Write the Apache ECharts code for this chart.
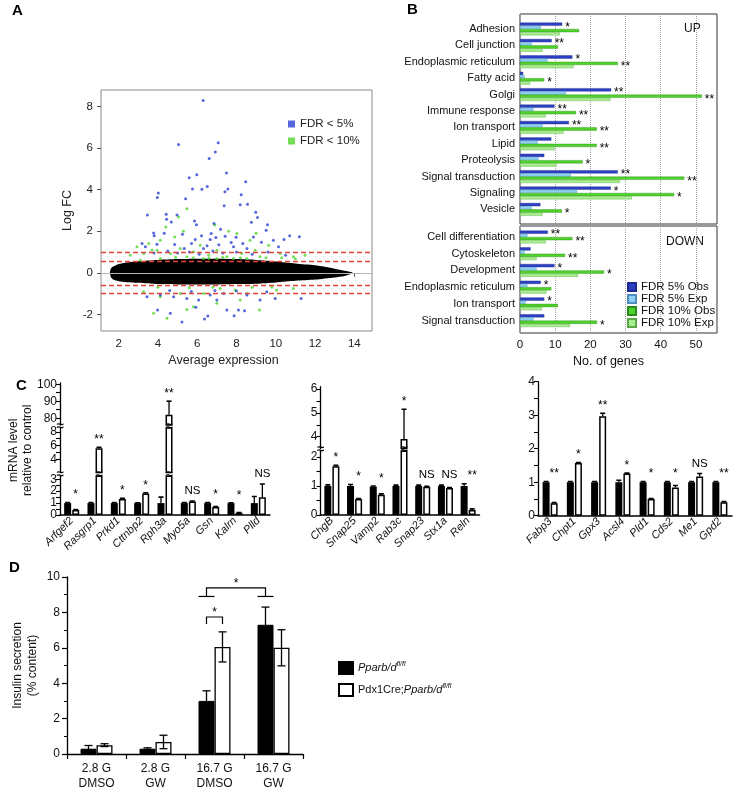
<!DOCTYPE html>
<html>
<head>
<meta charset="utf-8">
<script src="https://cdn.jsdelivr.net/npm/echarts@6/dist/echarts.min.js"></script>
<style>
  html, body { margin: 0; background: #fff; }
  #chart { width: 737px; height: 791px; }
</style>
</head>
<body>
<div id="chart"></div>
<script>
// ---------- Panel A: MA plot ----------
const maTicksX = [2, 4, 6, 8, 10, 12, 14];
const maTicksY = [-2, 0, 2, 4, 6, 8];
const cutoffs = [1, 0.58, -0.58, -1];
// outline of the dense black cloud of genes
const cloudX = [1.55, 1.58, 1.63, 1.72, 2.0, 2.4, 3, 4, 5, 6, 7, 8, 9, 10, 11, 12, 13, 13.5, 13.9];
const cloudUpper = [0, 0.14, 0.24, 0.3, 0.42, 0.5, 0.56, 0.62, 0.66, 0.68, 0.68, 0.66, 0.62, 0.55, 0.45, 0.36, 0.2, 0.1, 0.02];
const cloudLower = [0, -0.14, -0.25, -0.32, -0.4, -0.45, -0.48, -0.54, -0.56, -0.56, -0.56, -0.54, -0.52, -0.46, -0.38, -0.32, -0.22, -0.15, -0.02];
const fdr5Points = [
  [6.3, 8.3], [5.05, 6.18], [7.07, 6.26], [6.92, 5.81], [6.61, 5.5], [7.49, 4.8], [8.47, 4.38], [5.98, 4.72],
  [5.59, 4.58], [5.76, 4.03], [6.24, 4.02], [6.51, 4.16], [7.56, 4.03], [7.41, 3.9], [4.02, 3.84], [3.97, 3.62],
  [5.41, 3.57], [8.24, 3.76], [7.37, 3.23], [8.19, 3.28], [8.56, 3.3], [8.98, 2.91], [3.46, 2.78], [9.07, 2.66],
  [9.58, 2.32], [8.76, 2.43], [4.42, 2.82], [4.97, 2.78], [4.44, 2.58], [4.68, 2.45], [5.86, 2.5], [5.96, 2.32],
  [6.85, 2.37], [7.19, 2.1], [6.71, 1.89], [6.95, 1.7], [6.66, 1.6], [3.78, 1.92], [3.81, 1.79], [4.32, 1.9],
  [5.25, 1.86], [6.22, 1.79], [7.42, 1.76], [7.98, 1.71], [8.86, 1.73], [9.51, 2.05], [10.71, 1.79], [11.2, 1.74],
  [10.42, 1.6], [9.88, 1.57], [9.27, 1.47], [8.32, 1.41], [7.73, 1.46], [5.71, 1.41], [4.85, 1.36], [3.95, 1.38],
  [3.19, 1.41], [3.36, 1.25], [5.34, 1.17], [6.32, 1.17], [7.85, 1.25], [8.53, 1.17], [10.14, 1.25], [4.5, 1.05],
  [5.0, 0.95], [5.6, 1.0], [6.1, 0.9], [6.8, 1.05], [7.3, 0.95], [8.0, 1.0], [8.8, 0.9], [9.6, 1.0],
  [10.5, 0.85], [3.8, 0.95], [6.5, 1.3], [7.1, 1.35], [5.9, 1.6],
  [5.22, -2.37], [6.37, -2.22], [6.54, -2.08], [7.88, -2.06], [3.98, -1.79], [4.63, -1.95], [7.51, -1.79], [8.1, -1.79],
  [8.41, -1.82], [5.93, -1.66], [7.0, -1.31], [6.07, -1.31], [5.47, -1.23], [4.8, -1.15], [9.2, -1.31], [9.97, -1.23],
  [11.29, -1.23], [4.12, -1.07], [3.44, -1.15], [7.34, -0.99], [6.66, -1.07], [8.53, -1.07], [9.54, -0.91], [5.7, -0.9],
  [6.9, -0.85], [8.0, -0.88], [4.6, -0.85]
];
const fdr10Points = [
  [5.47, 3.09], [5.05, 2.69], [4.85, 1.73], [4.12, 1.57], [3.53, 1.41], [2.93, 1.25], [2.59, 0.85], [3.27, 0.93],
  [3.95, 1.09], [4.63, 0.93], [5.14, 1.17], [5.81, 1.01], [6.15, 1.33], [6.58, 0.85], [7.0, 1.09], [7.51, 0.77],
  [8.02, 1.89], [8.27, 0.93], [8.69, 1.57], [8.95, 1.09], [9.2, 0.77], [9.63, 1.33], [10.22, 0.93], [10.9, 0.77],
  [11.49, 0.85], [5.47, 0.77], [6.32, 0.69], [7.0, 0.69], [7.85, 0.69], [8.53, 0.69], [4.12, 0.69], [3.1, 0.61],
  [4.4, 2.2], [5.3, 2.0], [6.9, 2.3], [7.6, 2.0], [9.0, 1.9], [3.7, 1.1], [4.9, 0.75], [5.8, 0.72],
  [6.6, 0.7], [7.3, 0.75], [8.2, 0.72], [9.5, 0.72], [10.3, 0.72], [11.0, 0.68],
  [3.78, -1.95], [4.46, -2.19], [5.47, -1.76], [5.81, -1.63], [9.17, -1.79], [8.53, -0.99], [7.93, -0.83], [7.17, -0.75],
  [6.32, -0.99], [5.14, -0.99], [4.12, -1.15], [3.27, -0.91], [10.05, -0.83], [10.9, -0.75], [8.19, -1.31], [7.0, -1.47],
  [4.0, -0.7], [5.6, -0.72], [6.8, -0.7], [8.8, -0.7], [9.8, -0.68]
];

// ---------- Panel B: GO categories ----------
const goUp = ['Adhesion', 'Cell junction', 'Endoplasmic reticulum', 'Fatty acid', 'Golgi', 'Immune response',
  'Ion transport', 'Lipid', 'Proteolysis', 'Signal transduction', 'Signaling', 'Vesicle'];
const upObs5 = [12.0, 9.0, 14.9, 0.9, 25.9, 9.8, 13.9, 8.9, 6.9, 27.8, 25.8, 5.8];
const upExp5 = [5.9, 3.3, 7.8, 1.3, 13.0, 3.8, 6.4, 5.0, 5.2, 14.4, 16.2, 3.3];
const upObs10 = [16.8, 10.8, 27.8, 6.9, 51.7, 15.9, 21.8, 21.8, 17.8, 46.7, 43.8, 11.9];
const upExp10 = [11.3, 6.4, 15.2, 2.9, 25.7, 7.3, 12.4, 9.8, 10.4, 28.4, 31.8, 6.4];
const upSig5 = ['*', '**', '*', '', '**', '**', '**', '', '', '**', '*', ''];
const upSig10 = ['', '', '**', '*', '**', '**', '**', '**', '*', '**', '*', '*'];
const goDown = ['Cell differentiation', 'Cytoskeleton', 'Development', 'Endoplasmic reticulum', 'Ion transport', 'Signal transduction'];
const downObs5 = [7.9, 3.0, 9.8, 5.9, 6.9, 6.9];
const downExp5 = [2.1, 1.3, 4.7, 2.1, 1.6, 3.8];
const downObs10 = [14.9, 12.8, 23.9, 8.9, 10.8, 21.9];
const downExp10 = [7.3, 4.7, 16.5, 7.5, 6.2, 14.2];
const downSig5 = ['**', '', '*', '*', '*', ''];
const downSig10 = ['**', '**', '*', '', '', '*'];
const goTicks = [0, 10, 20, 30, 40, 50];

// ---------- Panel C: qPCR ----------
const c1Genes = ['Arfgef2', 'Rasgrp1', 'Prkd1', 'Cttnbp2', 'Rph3a', 'Myo5a', 'Gsn', 'Kalrn', 'Plld'];
const c1Ctrl = [1, 1, 1, 1, 1, 1, 1, 1, 1];
const c1CtrlTop = [1.05, 1.05, 1.04, 1.03, 1.5, 1.05, 1.05, 1.03, 1.55];
const c1Ko = [0.42, 5.6, 1.34, 1.8, 82, 1.13, 0.68, 0.18, 1.5];
const c1KoTop = [0.45, 5.75, 1.4, 1.87, 90, 1.17, 0.72, 0.2, 2.6];
const c1Sig = ['*', '**', '*', '*', '**', 'NS', '*', '*', 'NS'];

const c2Genes = ['ChgB', 'Snap25', 'Vamp2', 'Rab3c', 'Snap23', 'Stx1a', 'Reln'];
const c2Ctrl = [1, 1, 0.98, 1, 1, 1, 1];
const c2CtrlTop = [1.04, 1.05, 1.0, 1.03, 1.03, 1.03, 1.08];
const c2Ko = [1.68, 0.55, 0.7, 3.9, 0.97, 0.93, 0.17];
const c2KoTop = [1.71, 0.57, 0.73, 5.15, 0.99, 0.95, 0.21];
const c2Sig = ['*', '*', '*', '*', 'NS', 'NS', '**'];

const c3Genes = ['Fabp3', 'Chpt1', 'Gpx3', 'Acsl4', 'Pld1', 'Cds2', 'Me1', 'Gpd2'];
const c3Ctrl = [1, 1, 1, 1, 1, 1, 1, 1];
const c3CtrlTop = [1.02, 1.02, 1.02, 1.06, 1.02, 1.02, 1.02, 1.02];
const c3Ko = [0.37, 1.57, 2.97, 1.26, 0.5, 0.84, 1.17, 0.4];
const c3KoTop = [0.39, 1.59, 3.06, 1.27, 0.51, 0.9, 1.26, 0.42];
const c3Sig = ['**', '*', '**', '*', '*', '*', 'NS', '**'];

// ---------- Panel D: insulin secretion ----------
const dGroups = ['2.8 G\nDMSO', '2.8 G\nGW', '16.7 G\nDMSO', '16.7 G\nGW'];
const dWt = [0.3, 0.3, 3.0, 7.3];
const dWtErr = [0.18, 0.05, 0.57, 1.0];
const dKo = [0.5, 0.68, 6.05, 6.0];
const dKoErr = [0.08, 0.38, 0.85, 1.02];
// [group, bar, group, bar, bracket level, leg end, capped]
const dBrackets = [
  [2, 'wt', 2, 'ko', 7.74, 7.34, 0],
  [2, 'wt', 3, 'wt', 9.38, 8.9, 1]
];

const FONT = 'Liberation Sans';
const grids = [], xAxes = [], yAxes = [], series = [];

function addGrid(g, xa, ya) {
  grids.push(g);
  const gi = grids.length - 1;
  xAxes.push(Object.assign({ gridIndex: gi }, xa));
  yAxes.push(Object.assign({ gridIndex: gi }, ya));
  return gi;
}

// ---- A ----
const gA = addGrid(
  { left: 101, top: 90, width: 271, height: 241, show: true, borderColor: '#8a8a8a', borderWidth: 1 },
  {
    type: 'value', min: 1.1, max: 14.9,
    axisLine: { show: false },
    axisTick: { show: true, length: 4, customValues: maTicksX, lineStyle: { color: '#555' } },
    axisLabel: { customValues: maTicksX, fontSize: 11.5, color: '#222', margin: 7 },
    splitLine: { show: false },
    name: 'Average expression', nameLocation: 'middle', nameGap: 23,
    nameTextStyle: { fontSize: 12.5, color: '#222', padding: [0, 26, 0, 0] }
  },
  {
    type: 'value', min: -2.8, max: 8.8,
    axisLine: { show: false },
    axisTick: { show: true, length: 4, customValues: maTicksY, lineStyle: { color: '#555' } },
    axisLabel: { customValues: maTicksY, fontSize: 11.5, color: '#222', margin: 8 },
    splitLine: { show: false },
    name: 'Log FC', nameLocation: 'middle', nameGap: 27,
    nameTextStyle: { fontSize: 12.5, color: '#222' }
  }
);
series.push({
  type: 'line', xAxisIndex: gA, yAxisIndex: gA, data: [], z: 1, silent: true,
  markLine: { silent: true, symbol: 'none', label: { show: false }, animation: false,
    data: [{ yAxis: 0, lineStyle: { color: '#b5b5b5', type: 'solid', width: 1 } }] }
});
series.push({
  type: 'custom', name: 'cloud', xAxisIndex: gA, yAxisIndex: gA, silent: true, z: 2,
  data: cloudX.map((x, i) => [x, cloudUpper[i], cloudLower[i]]),
  encode: { x: 0, y: [1, 2] },
  renderItem: (params, api) => {
    if (params.dataIndex !== 0) return null;
    const pts = [];
    cloudX.forEach((x, i) => pts.push(api.coord([x, cloudUpper[i]])));
    for (let i = cloudX.length - 1; i >= 0; i--) pts.push(api.coord([cloudX[i], cloudLower[i]]));
    return { type: 'polygon', shape: { points: pts, smooth: 0.25 }, style: { fill: '#000' } };
  }
});
series.push({
  type: 'scatter', name: 'FDR < 10%', xAxisIndex: gA, yAxisIndex: gA, data: fdr10Points,
  symbolSize: 3, itemStyle: { color: '#52d62c' }, z: 3,
  markLine: { silent: true, symbol: 'none', label: { show: false }, animation: false, z: 6,
    data: cutoffs.map(v => ({ yAxis: v, lineStyle: { color: '#e0463c', type: [5, 3], width: 1.3 } })) }
});
series.push({
  type: 'scatter', name: 'FDR < 5%', xAxisIndex: gA, yAxisIndex: gA, data: fdr5Points,
  symbolSize: 3, itemStyle: { color: '#2a41d4' }, z: 4
});

// ---- B ----
const goColors = [
  { name: 'FDR 5% Obs', color: '#2d40c4', border: '#1d2a8a' },
  { name: 'FDR 5% Exp', color: '#8fd0f0', border: '#4a8fbf' },
  { name: 'FDR 10% Obs', color: '#4fd22b', border: '#2a8c18' },
  { name: 'FDR 10% Exp', color: '#a9ee8e', border: '#5aa84a' }
];

function goFrame(top, height, showLabels) {
  return addGrid(
    { left: 520, top, width: 197, height, show: true, borderColor: '#333', borderWidth: 1 },
    {
      type: 'value', min: 0, max: 56, interval: 10,
      axisLine: { show: false }, axisTick: { show: false },
      axisLabel: showLabels
        ? { show: true, fontSize: 11.5, color: '#111', margin: 6, showMaxLabel: false,
            formatter: v => (goTicks.indexOf(v) >= 0 ? String(v) : '') }
        : { show: false },
      splitLine: { show: true, lineStyle: { type: 'dotted', color: '#a0a0a0' } },
      name: showLabels ? 'No. of genes' : '', nameLocation: 'middle', nameGap: 22,
      nameTextStyle: { fontSize: 12.5, color: '#111', padding: [0, 20, 0, 0] }
    },
    { type: 'value', min: 0, max: 1, show: false }
  );
}

function goBlock(top, height, cats, vals, sigs) {
  const gi = addGrid(
    { left: 520, top, width: 197, height },
    { type: 'value', min: 0, max: 56, show: false },
    { type: 'category', data: cats, inverse: true,
      axisLine: { show: false }, axisTick: { show: false },
      axisLabel: { fontSize: 11, color: '#111', margin: 5 } }
  );
  vals.forEach((v, k) => {
    const sig = sigs[k];
    series.push({
      type: 'bar', name: goColors[k].name, xAxisIndex: gi, yAxisIndex: gi, data: v,
      barWidth: 3.2, barGap: '0%',
      itemStyle: { color: goColors[k].color, borderColor: goColors[k].border, borderWidth: 0.4 },
      label: sig ? { show: true, position: 'right', distance: 3, offset: [0, 3], fontSize: 12, color: '#000',
        formatter: p => sig[p.dataIndex] } : { show: false }
    });
  });
}

goFrame(14, 210, false);
goBlock(20.8, 196.8, goUp, [upObs5, upExp5, upObs10, upExp10], [upSig5, null, upSig10, null]);
goFrame(226, 107, true);
goBlock(228.6, 100.4, goDown, [downObs5, downExp5, downObs10, downExp10], [downSig5, null, downSig10, null]);

// ---- C ----
const C_BAR = 7;
const C_OFF = 4.03;

function cPanel(p) {
  const tops = p.genes.map((g, i) => Math.max(p.ctrlTop[i], p.koTop[i]));
  p.segs.forEach((seg, k) => {
    const first = k === 0;
    const last = k === p.segs.length - 1;
    // values at or below the segment underneath belong to that segment
    const lo = first ? -Infinity : p.segs[k - 1].max;
    const hi = last ? Infinity : seg.max;
    const gi = addGrid(
      { left: p.left, top: seg.top, width: p.width, height: seg.height },
      first ? {
        type: 'category', data: p.genes,
        axisLine: { lineStyle: { color: '#000', width: 1.5 } },
        axisTick: { show: false },
        axisLabel: { rotate: 45, interval: 0, fontSize: 11, fontStyle: 'italic', color: '#111', margin: 4 }
      } : { type: 'category', data: p.genes, show: false },
      Object.assign({
        type: 'value', min: seg.min, max: seg.max,
        axisLine: { show: true, lineStyle: { color: '#000', width: 1.3 } },
        axisTick: { show: true, length: 4, customValues: seg.ticks, lineStyle: { color: '#000', width: 1.1 } },
        axisLabel: { customValues: seg.labels, fontSize: 12, color: '#111', margin: 3 },
        splitLine: { show: false }
      }, seg.name ? {
        name: seg.name, nameLocation: 'middle', nameGap: 25,
        nameTextStyle: { fontSize: 12, color: '#111', lineHeight: 14 }
      } : {})
    );
    series.push({
      type: 'bar', xAxisIndex: gi, yAxisIndex: gi, data: p.ctrl, barWidth: C_BAR, barGap: '15%',
      itemStyle: { color: '#000' }, clip: true, silent: true
    });
    series.push({
      type: 'bar', xAxisIndex: gi, yAxisIndex: gi, data: p.ko, barWidth: C_BAR, barGap: '15%',
      itemStyle: { color: '#fff', borderColor: '#000', borderWidth: 1.5 }, clip: true, silent: true
    });
    [[p.ctrl, p.ctrlTop, -C_OFF], [p.ko, p.koTop, C_OFF]].forEach(([v, t, off]) => {
      series.push({
        type: 'custom', xAxisIndex: gi, yAxisIndex: gi, clip: true, silent: true, z: 5,
        data: p.genes.map((g, i) => [i, t[i]]),
        renderItem: (params, api) => {
          const i = params.dataIndex;
          if (t[i] <= lo) return null;
          const a = api.coord([i, Math.max(v[i], lo)]);
          const b = api.coord([i, t[i]]);
          const x = a[0] + off;
          return { type: 'group', children: [
            { type: 'line', shape: { x1: x, y1: a[1], x2: x, y2: b[1] }, style: { stroke: '#000', lineWidth: 1.3 } },
            { type: 'line', shape: { x1: x - 2.5, y1: b[1], x2: x + 2.5, y2: b[1] }, style: { stroke: '#000', lineWidth: 1.6 } }
          ] };
        }
      });
    });
    series.push({
      type: 'custom', xAxisIndex: gi, yAxisIndex: gi, silent: true, z: 6,
      data: p.genes.map((g, i) => [i, tops[i]]),
      renderItem: (params, api) => {
        const i = params.dataIndex;
        if (tops[i] <= lo || tops[i] > hi) return null;
        const pt = api.coord([i, tops[i]]);
        const s = p.sig[i];
        return { type: 'text', style: { text: s, x: pt[0] + C_OFF, y: pt[1] - (s === 'NS' ? 4 : 1.5),
          align: 'center', verticalAlign: 'bottom', fontSize: s === 'NS' ? 11.5 : 12, fill: '#000',
          fontFamily: FONT } };
      }
    });
    if (!last) {
      series.push({
        type: 'custom', xAxisIndex: gi, yAxisIndex: gi, silent: true, z: 7,
        data: [[0, seg.max]],
        renderItem: (params, api) => {
          const cs = params.coordSys;
          const y = cs.y - 1.5;
          const mark = x => ({ type: 'text', style: { text: '≈', x, y, align: 'center', verticalAlign: 'middle',
            fontSize: 13, fontWeight: 'bold', fill: '#000', fontFamily: FONT } });
          const kids = [mark(cs.x)];
          p.ko.forEach((v, i) => {
            if (v > seg.max) kids.push(mark(api.coord([i, seg.max])[0] + C_OFF));
          });
          return { type: 'group', children: kids };
        }
      });
    }
  });
}

cPanel({
  genes: c1Genes, ctrl: c1Ctrl, ctrlTop: c1CtrlTop, ko: c1Ko, koTop: c1KoTop, sig: c1Sig,
  left: 60, width: 210,
  segs: [
    { min: 0, max: 3.25, top: 476.3, height: 38.7, ticks: [0, 0.5, 1, 1.5, 2, 2.5, 3], labels: [0, 1, 2, 3] },
    { min: 2.1, max: 8.55, top: 428, height: 44.5, ticks: [4, 5, 6, 7, 8], labels: [4, 6, 8],
      name: 'mRNA level\nrelative to control' },
    { min: 76, max: 100.7, top: 383, height: 42, ticks: [80, 85, 90, 95, 100], labels: [80, 90, 100] }
  ]
});
cPanel({
  genes: c2Genes, ctrl: c2Ctrl, ctrlTop: c2CtrlTop, ko: c2Ko, koTop: c2KoTop, sig: c2Sig,
  left: 320.5, width: 159,
  segs: [
    { min: 0, max: 2.2, top: 451.2, height: 63.8, ticks: [0, 0.5, 1, 1.5, 2], labels: [0, 1, 2] },
    { min: 3.5, max: 6.1, top: 386.7, height: 61.9, ticks: [4, 4.5, 5, 5.5, 6], labels: [4, 5, 6] }
  ]
});
cPanel({
  genes: c3Genes, ctrl: c3Ctrl, ctrlTop: c3CtrlTop, ko: c3Ko, koTop: c3KoTop, sig: c3Sig,
  left: 538, width: 194,
  segs: [
    { min: 0, max: 4, top: 381.7, height: 134, ticks: [0, 0.5, 1, 1.5, 2, 2.5, 3, 3.5, 4], labels: [0, 1, 2, 3, 4] }
  ]
});

// ---- D ----
const D_BAR = 16;
const gD = addGrid(
  { left: 67, top: 577, width: 236, height: 177 },
  {
    type: 'category', data: dGroups,
    axisLine: { lineStyle: { color: '#000', width: 1.3 } },
    axisTick: { show: true, length: 5, lineStyle: { color: '#000', width: 1.2 } },
    axisLabel: { fontSize: 12, lineHeight: 15, color: '#111', margin: 7 }
  },
  {
    type: 'value', min: 0, max: 10, interval: 2,
    axisLine: { show: true, lineStyle: { color: '#000', width: 1.3 } },
    axisTick: { show: true, length: 5, lineStyle: { color: '#000', width: 1.2 } },
    minorTick: { show: true, splitNumber: 2, length: 3, lineStyle: { color: '#000', width: 1 } },
    axisLabel: { fontSize: 12, color: '#111', margin: 7 },
    splitLine: { show: false },
    name: 'Insulin secretion\n(% content)', nameLocation: 'middle', nameGap: 27,
    nameTextStyle: { fontSize: 12, color: '#111', lineHeight: 15 }
  }
);
series.push({
  type: 'bar', name: 'ctrl', xAxisIndex: gD, yAxisIndex: gD, data: dWt, barWidth: D_BAR, barGap: '0%',
  itemStyle: { color: '#000', borderColor: '#000', borderWidth: 1 }
});
series.push({
  type: 'bar', name: 'ko', xAxisIndex: gD, yAxisIndex: gD, data: dKo, barWidth: D_BAR, barGap: '0%',
  itemStyle: { color: '#fff', borderColor: '#000', borderWidth: 1.3 }
});
[[dWt, dWtErr, -D_BAR / 2], [dKo, dKoErr, D_BAR / 2]].forEach(([v, e, off]) => {
  series.push({
    type: 'custom', xAxisIndex: gD, yAxisIndex: gD, silent: true, z: 5,
    data: v.map((val, i) => [i, val + e[i]]),
    renderItem: (params, api) => {
      const i = params.dataIndex;
      const hi = api.coord([i, v[i] + e[i]]);
      const lo = api.coord([i, v[i] - e[i]]);
      const x = hi[0] + off;
      const st = { stroke: '#000', lineWidth: 1.3 };
      return { type: 'group', children: [
        { type: 'line', shape: { x1: x, y1: hi[1], x2: x, y2: lo[1] }, style: st },
        { type: 'line', shape: { x1: x - 4, y1: hi[1], x2: x + 4, y2: hi[1] }, style: st },
        { type: 'line', shape: { x1: x - 4, y1: lo[1], x2: x + 4, y2: lo[1] }, style: st }
      ] };
    }
  });
});
series.push({
  type: 'custom', xAxisIndex: gD, yAxisIndex: gD, silent: true, z: 6,
  data: dBrackets.map(b => [b[0], b[4]]),
  renderItem: (params, api) => {
    const b = dBrackets[params.dataIndex];
    const side = s => (s === 'wt' ? -D_BAR / 2 : D_BAR / 2);
    const p1 = api.coord([b[0], b[4]]);
    const p2 = api.coord([b[2], b[4]]);
    const yl = api.coord([b[0], b[5]])[1];
    const x1 = p1[0] + side(b[1]);
    const x2 = p2[0] + side(b[3]);
    const st = { stroke: '#000', lineWidth: 1.2, fill: null };
    const kids = [
      { type: 'polyline', shape: { points: [[x1, yl], [x1, p1[1]], [x2, p1[1]], [x2, yl]] }, style: st },
      { type: 'text', style: { text: '*', x: (x1 + x2) / 2, y: p1[1] + 2, align: 'center', verticalAlign: 'bottom',
        fontSize: 12, fill: '#000', fontFamily: FONT } }
    ];
    if (b[6]) {
      kids.push({ type: 'line', shape: { x1: x1 - 8, y1: yl, x2: x1 + 8, y2: yl }, style: st });
      kids.push({ type: 'line', shape: { x1: x2 - 8, y1: yl, x2: x2 + 8, y2: yl }, style: st });
    }
    return { type: 'group', children: kids };
  }
});

const chart = echarts.init(document.getElementById('chart'), null, { renderer: 'canvas' });
chart.setOption({
  animation: false,
  backgroundColor: '#fff',
  textStyle: { fontFamily: FONT },
  grid: grids,
  xAxis: xAxes,
  yAxis: yAxes,
  series,
  legend: [
    {
      data: ['FDR < 5%', 'FDR < 10%'], left: 283, top: 113, orient: 'vertical',
      icon: 'rect', itemWidth: 7, itemHeight: 7, itemGap: 5,
      textStyle: { fontSize: 11.5, color: '#222' }
    },
    {
      data: goColors.map(c => c.name), left: 627, top: 281, orient: 'vertical',
      icon: 'rect', itemWidth: 8, itemHeight: 8, itemGap: 0, padding: 0,
      textStyle: { fontSize: 11.5, color: '#111', lineHeight: 11, height: 11 }
    },
    {
      data: ['ctrl', 'ko'], left: 333, top: 656, orient: 'vertical',
      icon: 'rect', itemWidth: 14, itemHeight: 12, itemGap: 8,
      formatter: n => (n === 'ctrl' ? '{i|Pparb/d}{s|fl/fl}' : 'Pdx1Cre;{i|Pparb/d}{s|fl/fl}'),
      textStyle: { fontSize: 11, color: '#111',
        rich: { i: { fontStyle: 'italic', fontSize: 11, lineHeight: 14 },
                s: { fontStyle: 'italic', fontSize: 7, verticalAlign: 'top', lineHeight: 14 } } }
    }
  ],
  graphic: [
    { type: 'text', left: 12, top: 3, style: { text: 'A', font: 'bold 15px ' + FONT, fill: '#000' } },
    { type: 'text', left: 407, top: 2, style: { text: 'B', font: 'bold 15px ' + FONT, fill: '#000' } },
    { type: 'text', left: 16, top: 378, style: { text: 'C', font: 'bold 15px ' + FONT, fill: '#000' } },
    { type: 'text', left: 9, top: 560, style: { text: 'D', font: 'bold 15px ' + FONT, fill: '#000' } },
    { type: 'text', left: 684, top: 23, style: { text: 'UP', font: '12px ' + FONT, fill: '#111' } },
    { type: 'text', left: 666, top: 236, style: { text: 'DOWN', font: '12px ' + FONT, fill: '#111' } }
  ]
});
</script>
</body>
</html>
